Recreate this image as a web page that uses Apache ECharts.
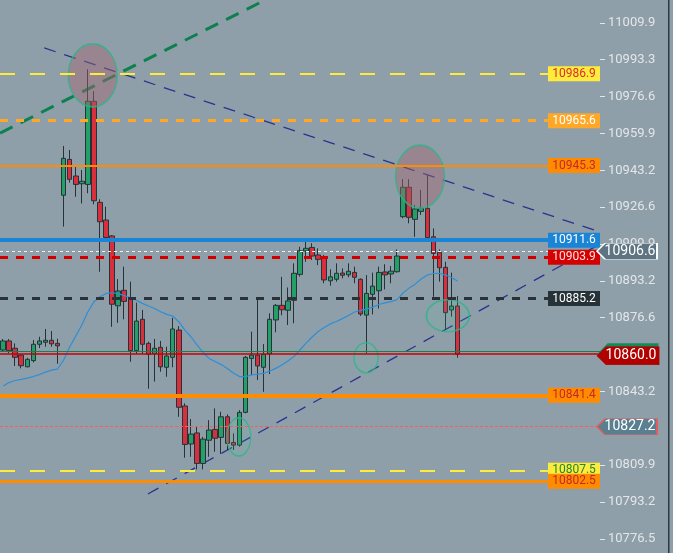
<!DOCTYPE html>
<html>
<head>
<meta charset="utf-8">
<title>Price chart</title>
<script src="https://cdn.jsdelivr.net/npm/echarts@6/dist/echarts.min.js"></script>
<style>
    html, body { margin: 0; padding: 0; background: #8f9fa9; }
    #chart { width: 673px; height: 553px; }
</style>
</head>
<body>
<div id="chart"></div>
<script>
// candle values (one entry per bar)
var opens = [10861.9, 10866.0, 10862.7, 10859.6, 10854.3, 10857.1, 10864.5, 10865.4, 10866.3, 10864.9,
    10931.9, 10948.1, 10940.6, 10937.1, 10936.8, 10974.4, 10928.7, 10920.7, 10913.5, 10881.9,
    10888.9, 10885.0, 10861.6, 10875.8, 10864.9, 10860.2, 10863.1, 10854.1, 10858.6, 10870.9,
    10836.6, 10819.4, 10824.4, 10810.6, 10821.1, 10826.0, 10822.4, 10831.7, 10820.1, 10818.9,
    10833.7, 10858.1, 10859.6, 10854.1, 10860.1, 10875.5, 10882.1, 10879.9, 10884.4, 10896.1,
    10906.7, 10908.3, 10904.9, 10903.4, 10893.2, 10893.9, 10896.7, 10895.9, 10897.0, 10893.9,
    10877.7, 10887.1, 10888.7, 10897.2, 10896.3, 10897.3, 10922.2, 10935.5, 10921.0, 10924.6,
    10926.0, 10913.1, 10906.1, 10899.3, 10880.0, 10881.8];
var closes = [10866.0, 10861.6, 10858.6, 10854.8, 10857.7, 10864.5, 10866.0, 10866.3, 10864.7, 10863.8,
    10948.6, 10939.1, 10936.8, 10938.2, 10974.4, 10929.4, 10919.9, 10912.8, 10882.6, 10888.6,
    10883.9, 10861.6, 10875.0, 10864.5, 10859.9, 10862.7, 10854.3, 10859.2, 10871.4, 10836.0,
    10819.2, 10823.9, 10810.6, 10821.6, 10825.7, 10822.0, 10831.7, 10819.7, 10818.9, 10833.7,
    10858.6, 10859.6, 10854.7, 10859.9, 10875.8, 10882.1, 10880.1, 10884.1, 10896.6, 10906.8,
    10907.9, 10904.4, 10902.9, 10893.6, 10895.0, 10896.6, 10895.7, 10897.5, 10894.8, 10878.2,
    10887.5, 10890.8, 10897.0, 10895.9, 10897.6, 10904.4, 10935.5, 10921.9, 10925.7, 10926.1,
    10912.7, 10905.6, 10899.1, 10878.8, 10881.8, 10860.0];
var lows = [10861.0, 10860.5, 10854.7, 10853.6, 10854.1, 10856.3, 10862.8, 10863.4, 10863.4, 10855.7,
    10917.7, 10937.6, 10931.2, 10928.2, 10932.8, 10927.8, 10897.3, 10912.6, 10872.4, 10874.2,
    10875.8, 10856.6, 10860.1, 10860.1, 10844.4, 10847.6, 10852.1, 10849.8, 10854.1, 10831.7,
    10813.2, 10813.6, 10807.9, 10807.9, 10813.6, 10815.9, 10814.9, 10816.7, 10816.7, 10818.2,
    10833.3, 10850.6, 10848.3, 10843.0, 10851.0, 10869.9, 10877.6, 10873.2, 10874.0, 10895.1,
    10901.8, 10902.6, 10900.3, 10892.1, 10891.0, 10892.8, 10894.3, 10894.8, 10892.1, 10877.3,
    10860.4, 10878.0, 10880.7, 10889.3, 10892.1, 10896.9, 10921.5, 10919.2, 10913.1, 10923.0,
    10911.6, 10886.0, 10892.8, 10870.9, 10877.0, 10858.4];
var highs = [10866.9, 10866.9, 10864.9, 10860.1, 10858.4, 10866.4, 10867.9, 10871.4, 10870.5, 10867.0,
    10954.2, 10952.4, 10944.8, 10943.3, 10988.9, 10979.0, 10930.1, 10926.7, 10913.9, 10894.0,
    10899.6, 10892.8, 10883.3, 10880.0, 10865.7, 10866.9, 10866.0, 10863.4, 10876.5, 10872.7,
    10837.8, 10830.7, 10827.2, 10822.6, 10830.2, 10835.5, 10834.0, 10832.8, 10824.2, 10834.7,
    10859.2, 10870.2, 10885.0, 10864.6, 10878.5, 10882.7, 10895.0, 10890.2, 10901.1, 10908.6,
    10912.4, 10910.2, 10907.9, 10904.9, 10898.4, 10901.1, 10898.8, 10901.1, 10899.6, 10894.3,
    10895.8, 10896.9, 10899.6, 10900.7, 10899.9, 10907.4, 10939.2, 10939.2, 10927.5, 10934.3,
    10941.0, 10916.9, 10907.4, 10901.8, 10896.9, 10886.3];

// moving average line (blue)
var maValues = [10845.6, 10847.2, 10848.1, 10848.6, 10849.2, 10849.9, 10850.8, 10851.9, 10852.8, 10853.3,
    10857.4, 10863.3, 10868.2, 10873.2, 10879.2, 10883.7, 10886.0, 10887.5, 10887.8, 10887.4,
    10886.5, 10885.6, 10884.4, 10883.0, 10881.8, 10880.7, 10879.2, 10878.0, 10877.3, 10874.7,
    10870.9, 10867.9, 10864.2, 10860.8, 10858.1, 10856.7, 10855.3, 10853.5, 10851.5, 10849.9,
    10849.9, 10850.6, 10851.0, 10851.3, 10852.4, 10853.6, 10855.1, 10856.9, 10859.0, 10861.9,
    10865.0, 10867.8, 10870.3, 10872.1, 10873.7, 10874.8, 10876.1, 10877.5, 10879.1, 10879.8,
    10880.4, 10881.3, 10882.5, 10883.2, 10883.8, 10884.7, 10887.7, 10889.9, 10891.7, 10894.0,
    10895.8, 10896.5, 10896.6, 10895.8, 10894.7, 10893.1];

// right axis tick labels
var tickLabels = [11009.9, 10993.3, 10976.6, 10959.9, 10943.2, 10926.6, 10909.9, 10893.2, 10876.6,
    10843.2, 10809.9, 10793.2, 10776.5];

// horizontal levels with a boxed label, and the three arrow tags
var levelPrices = [10986.9, 10965.6, 10945.3, 10911.6, 10903.9, 10885.2, 10841.4, 10807.5, 10802.5];
var tagPrices = [10906.6, 10860.0, 10827.2];
var bidPrice = 10861.4;

// drawn trend lines: [bar index, price]
var greenTrend = [[-0.5, 10960.0], [49, 11028.1]];
var fallTrend = [[6.8, 10998.5], [98.5, 10915.3]];
var riseTrend = [[23.9, 10796.8], [98.5, 10909.8]];

// circled spots: [bar index, price]
var circleSpots = [[14.8, 10986.1], [68.8, 10940.3], [38.9, 10822.6], [59.9, 10858.4], [73.4, 10877.4]];

var SLOTS = 99;
var categories = [];
for (var s = 0; s < SLOTS; s++) { categories.push('b' + (s + 1)); }

var PriceChart = {
    chart: null,
    xMax: SLOTS - 0.5,
    font: 'Roboto, "DejaVu Sans", sans-serif',
    levelStyle: [
        { line: '#ffeb3b', width: 2, type: [15, 15], box: '#ffeb3b', text: '#d32f2f' },
        { line: '#ffa726', width: 3, type: [8, 8], box: '#ffa726', text: '#ffffff' },
        { line: '#ff8c00', width: 2, type: 'solid', box: '#ff8c00', text: '#c62828' },
        { line: '#1a84d6', width: 4, type: 'solid', box: '#1a84d6', text: '#ffffff' },
        { line: '#d00000', width: 3, type: [8, 8], box: '#d50000', text: '#ffe3e3' },
        { line: '#2a3238', width: 3, type: [8, 8], box: '#263238', text: '#ffffff' },
        { line: '#ff8c00', width: 4, type: 'solid', box: '#ff8c00', text: '#c62828' },
        { line: '#ffeb3b', width: 2, type: [15, 15], box: '#ffeb3b', text: '#1b8a3a' },
        { line: '#ff8c00', width: 3, type: 'solid', box: '#ff8c00', text: '#c62828' }
    ],
    tagStyle: [
        { line: '#f2f2f2', width: 1, type: [3, 3], fill: '#5e7482', border: '#ffffff' },
        { line: '#c80000', width: 1.5, type: 'solid', fill: '#b00000', border: '#b00000' },
        { line: '#ff5a5a', width: 1, type: [3, 2], fill: '#5a7f91', border: '#e85a5a' }
    ],
    circleStyle: [
        { size: [49, 63], fill: 'rgba(163,100,110,0.55)' },
        { size: [49, 63], fill: 'rgba(163,100,110,0.55)' },
        { size: [24, 38], fill: 'rgba(90,200,170,0.15)' },
        { size: [24, 30], fill: 'rgba(90,200,170,0.15)' },
        { size: [43, 32], fill: 'rgba(90,200,170,0.15)' }
    ]
};

PriceChart.buildMarkers = function () {
    var lines = [], points = [];
    var tagShape = 'path://M0,8 L8,0 L60,0 L60,16 L8,16 Z';

    levelPrices.forEach(function (p, i) {
        var st = PriceChart.levelStyle[i];
        lines.push({ yAxis: p, lineStyle: { color: st.line, width: st.width, type: st.type } });
        points.push({
            coord: [PriceChart.xMax, p],
            symbol: 'rect',
            symbolSize: [52, 15],
            symbolOffset: [-26, 0],
            itemStyle: { color: st.box },
            label: { show: true, position: 'inside', formatter: p.toFixed(1), color: st.text, fontSize: 12, fontFamily: PriceChart.font }
        });
    });

    lines.push({ yAxis: bidPrice, lineStyle: { color: '#1d7a52', width: 1, type: 'solid' } });

    tagPrices.forEach(function (p, i) {
        var st = PriceChart.tagStyle[i];
        lines.push({ yAxis: p, lineStyle: { color: st.line, width: st.width, type: st.type } });
        if (i === 1) {
            // green stripe on top of the last price tag
            points.push({
                coord: [PriceChart.xMax, p],
                symbol: 'path://M0,10 L10,0 L60,0 L60,20 L10,20 Z',
                symbolSize: [61, 21],
                symbolOffset: [28, -0.5],
                itemStyle: { color: '#138a5a' },
                label: { show: false }
            });
        }
        points.push({
            coord: [PriceChart.xMax, p],
            symbol: i === 1 ? 'path://M0,9 L9,0 L60,0 L60,18 L9,18 Z' : tagShape,
            symbolSize: i === 1 ? [61, 18] : [60, 16],
            symbolOffset: i === 1 ? [28, 1.5] : [27, 0],
            itemStyle: { color: st.fill, borderColor: st.border, borderWidth: 1 },
            label: { show: true, position: 'inside', offset: [3, 0], formatter: p.toFixed(1), color: '#ffffff', fontSize: 14, fontFamily: PriceChart.font }
        });
    });
    return { lines: lines, points: points };
};

PriceChart.init = function () {
    PriceChart.chart = echarts.init(document.getElementById('chart'));
    var mk = PriceChart.buildMarkers();

    var candles = [];
    for (var i = 0; i < opens.length; i++) {
        candles.push([opens[i], closes[i], lows[i], highs[i]]);
    }
    var circles = circleSpots.map(function (c, i) {
        var st = PriceChart.circleStyle[i];
        return { value: c, symbolSize: st.size, itemStyle: { color: st.fill } };
    });

    var trendLine = function (data, color, width, type) {
        return {
            type: 'line', xAxisIndex: 1, data: data, symbol: 'none', z: 2, silent: true,
            lineStyle: { color: color, width: width, type: type }
        };
    };

    var option = {
        backgroundColor: '#8f9fa9',
        animation: false,
        grid: { left: 0, right: 73, top: 0, bottom: 0, containLabel: false },
        xAxis: [{
            type: 'category',
            data: categories,
            boundaryGap: true,
            show: false
        }, {
            type: 'value',
            min: -0.5,
            max: PriceChart.xMax,
            show: false
        }],
        yAxis: {
            type: 'value',
            position: 'right',
            min: 10770.1,
            max: 11020.2,
            scale: true,
            splitLine: { show: false },
            axisLine: { show: true, onZero: false, lineStyle: { color: 'rgba(0,0,0,0)', width: 0 } },
            axisTick: {
                show: true, length: 5, inside: false,
                customValues: tickLabels,
                lineStyle: { color: '#e3e6e8', width: 1 }
            },
            axisLabel: {
                show: true,
                margin: 8,
                customValues: tickLabels,
                color: '#e3e6e8',
                fontSize: 13,
                fontFamily: PriceChart.font,
                formatter: function (v) { return v.toFixed(1); }
            }
        },
        series: [
            trendLine(greenTrend, '#0d8050', 3, [14, 9]),
            trendLine(fallTrend, '#27338f', 1.3, [12, 9]),
            trendLine(riseTrend, '#27338f', 1.3, [12, 9]),
            {
                type: 'candlestick',
                xAxisIndex: 0,
                data: candles,
                barWidth: 5,
                z: 2,
                itemStyle: {
                    color: '#22a068',
                    color0: '#d7303c',
                    borderColor: '#263238',
                    borderColor0: '#263238',
                    borderWidth: 1
                }
            },
            {
                type: 'line',
                xAxisIndex: 0,
                data: maValues,
                symbol: 'none',
                z: 3,
                lineStyle: { color: '#2b8fd8', width: 1.2 }
            },
            {
                type: 'scatter',
                xAxisIndex: 1,
                data: circles,
                symbol: 'circle',
                z: 4,
                silent: true,
                itemStyle: { borderColor: '#2bb58a', borderWidth: 1.5 }
            },
            {
                type: 'line',
                xAxisIndex: 1,
                data: [],
                silent: true,
                markLine: {
                    z: 5,
                    symbol: ['none', 'none'],
                    silent: true,
                    label: { show: false },
                    data: mk.lines
                },
                markPoint: {
                    z: 6,
                    silent: true,
                    data: mk.points
                }
            }
        ],
        graphic: [{
            type: 'rect',
            shape: { x: 668, y: 0, width: 1.5, height: 553 },
            style: { fill: '#2e3a42' }
        }]
    };
    PriceChart.chart.setOption(option);
};

PriceChart.init();
</script>
</body>
</html>
